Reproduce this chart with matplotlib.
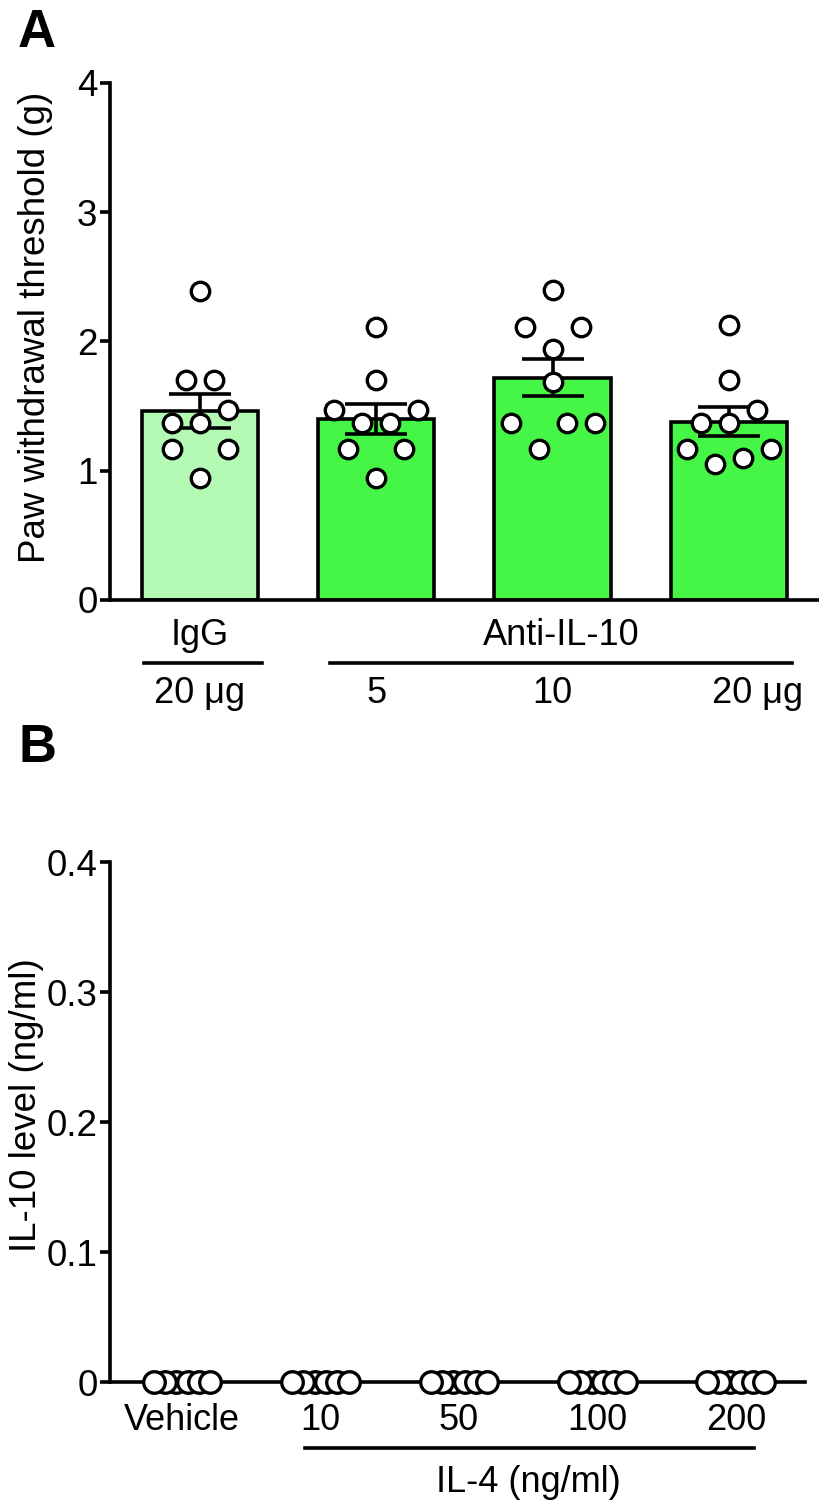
import numpy as np
import matplotlib
matplotlib.use("Agg")
import matplotlib.pyplot as plt
from matplotlib.lines import Line2D

plt.rcParams['font.family'] = ['Liberation Sans', 'DejaVu Sans']

# ---------------- data ----------------
# Panel A
a_groups = ["IgG 20 µg", "Anti-IL-10 5", "Anti-IL-10 10", "Anti-IL-10 20 µg"]
a_means = [1.46, 1.40, 1.72, 1.38]
a_sem = [0.13, 0.115, 0.145, 0.115]
a_points_igg20 = [2.39, 1.70, 1.70, 1.47, 1.37, 1.37, 1.17, 1.17, 0.945]
a_points_anti5 = [2.11, 1.70, 1.47, 1.47, 1.37, 1.37, 1.17, 1.17, 0.945]
a_points_anti10 = [2.40, 2.11, 2.11, 1.94, 1.69, 1.37, 1.37, 1.37, 1.17]
a_points_anti20 = [2.13, 1.70, 1.47, 1.37, 1.37, 1.17, 1.17, 1.095, 1.056]
a_yticks = [0, 1, 2, 3, 4]
a_ylabel = "Paw withdrawal threshold (g)"

# Panel B
b_groups = ["Vehicle", "10", "50", "100", "200"]
b_vehicle = [0, 0, 0, 0, 0, 0]
b_il4_10 = [0, 0, 0, 0, 0, 0]
b_il4_50 = [0, 0, 0, 0, 0, 0]
b_il4_100 = [0, 0, 0, 0, 0, 0]
b_il4_200 = [0, 0, 0, 0, 0, 0]
b_yticks = [0, 0.1, 0.2, 0.3, 0.4]
b_yticklabels = ["0", "0.1", "0.2", "0.3", "0.4"]
b_ylabel = "IL-10 level (ng/ml)"

LIGHT = "#b4f9b4"
BRIGHT = "#46f646"


def swarm_offsets(vals, step, bin_h):
    vals = np.asarray(vals, dtype=float)
    order = list(np.argsort(vals, kind="stable"))
    offs = np.zeros(len(vals))
    i = 0
    while i < len(order):
        start = vals[order[i]]
        j = i
        while j < len(order) and vals[order[j]] - start <= bin_h + 1e-9:
            j += 1
        members = order[i:j]
        n = len(members)
        slots = [(k - (n - 1) / 2.0) * step for k in range(n)]
        slots.sort(key=lambda s: (round(abs(s), 6), s))
        for m, s in zip(members, slots):
            offs[m] = s
        i = j
    return offs


W, H = 819, 1505
fig = plt.figure(figsize=(W / 100, H / 100), dpi=100)


def frac_axes(left_px, right_px, top_px, bottom_px):
    return fig.add_axes([left_px / W, 1 - bottom_px / H,
                         (right_px - left_px) / W, (bottom_px - top_px) / H])


LW = 2.6
FS = 26
TFS = 26.5

# ---------------- Panel A ----------------
axA = frac_axes(110, 818, 83, 600)
xA = np.arange(len(a_means))
colors = [LIGHT, BRIGHT, BRIGHT, BRIGHT]
axA.bar(xA, a_means, width=0.66, color=colors, edgecolor="black",
        linewidth=LW, zorder=2)
axA.errorbar(xA, a_means, yerr=a_sem, fmt="none", ecolor="black",
             elinewidth=LW, capsize=22.5, capthick=LW, zorder=3)
for xi, pts in zip(xA, [a_points_igg20, a_points_anti5,
                        a_points_anti10, a_points_anti20]):
    offs = swarm_offsets(pts, 0.159, 0.24)
    axA.plot(xi + offs, pts, "o", ms=13.3, mfc="white", mec="black",
             mew=2.4, zorder=4, clip_on=False)
axA.set_xlim(-0.51, 3.505)
axA.set_ylim(0, 4)
axA.set_yticks(a_yticks)
axA.set_yticklabels([str(t) for t in a_yticks])
axA.set_xticks([])
for s in ["top", "right"]:
    axA.spines[s].set_visible(False)
for s in ["left", "bottom"]:
    axA.spines[s].set_linewidth(LW)
axA.tick_params(axis="y", length=7.5, width=LW, labelsize=TFS, pad=1.5)
fig.text(36 / W, 1 - 327 / H, a_ylabel, rotation=90, rotation_mode="anchor",
         ha="center", va="center", fontsize=TFS)

tA = axA.get_xaxis_transform()
row1, rowL, row2 = -0.068, -0.122, -0.18
axA.text(0, row1, "IgG", transform=tA, ha="center", va="center", fontsize=FS)
axA.text(2.05, row1, "Anti-IL-10", transform=tA, ha="center",
         va="center", fontsize=FS)
axA.add_line(Line2D([-0.32, 0.35], [rowL, rowL], transform=tA, color="black",
                    lw=LW, clip_on=False))
axA.add_line(Line2D([0.74, 3.36], [rowL, rowL], transform=tA, color="black",
                    lw=LW, clip_on=False))
axA.text(0, row2, "20 \u03bcg", transform=tA, ha="center", va="center",
         fontsize=FS)
axA.text(1, row2, "5", transform=tA, ha="center", va="center", fontsize=FS)
axA.text(2, row2, "10", transform=tA, ha="center", va="center", fontsize=FS)
axA.text(3.16, row2, "20 \u03bcg", transform=tA, ha="center", va="center",
         fontsize=FS)

# ---------------- Panel B ----------------
axB = frac_axes(110, 805, 862, 1382)
xB = np.arange(len(b_groups))
for xi, pts in zip(xB, [b_vehicle, b_il4_10, b_il4_50, b_il4_100, b_il4_200]):
    offs = swarm_offsets(pts, 0.082, 0.02)
    axB.plot(xi + offs, pts, "o", ms=15.5, mfc="white", mec="black",
             mew=2.4, zorder=4, clip_on=False)
axB.set_xlim(-0.52, 4.5)
axB.set_ylim(0, 0.4)
axB.set_yticks(b_yticks)
axB.set_yticklabels(b_yticklabels)
axB.set_xticks([])
for s in ["top", "right"]:
    axB.spines[s].set_visible(False)
for s in ["left", "bottom"]:
    axB.spines[s].set_linewidth(LW)
axB.tick_params(axis="y", length=7.5, width=LW, labelsize=TFS, pad=1.5)
fig.text(27 / W, 1 - 1105 / H, b_ylabel, rotation=90, rotation_mode="anchor",
         ha="center", va="center", fontsize=TFS)

tB = axB.get_xaxis_transform()
for xi, lab in zip(xB, b_groups):
    axB.text(xi, -0.075, lab, transform=tB, ha="center", va="center",
             fontsize=FS)
axB.add_line(Line2D([0.89, 4.13], [-0.127, -0.127], transform=tB,
                    color="black", lw=LW, clip_on=False))
axB.text(2.5, -0.194, "IL-4 (ng/ml)", transform=tB, ha="center",
         va="center", fontsize=FS)

# panel letters
fig.text(37 / W, 1 - 33 / H, "A", fontsize=38, fontweight="bold",
         ha="center", va="center")
fig.text(37 / W, 1 - 748 / H, "B", fontsize=38, fontweight="bold",
         ha="center", va="center")

fig.savefig("out.png", dpi=100)
